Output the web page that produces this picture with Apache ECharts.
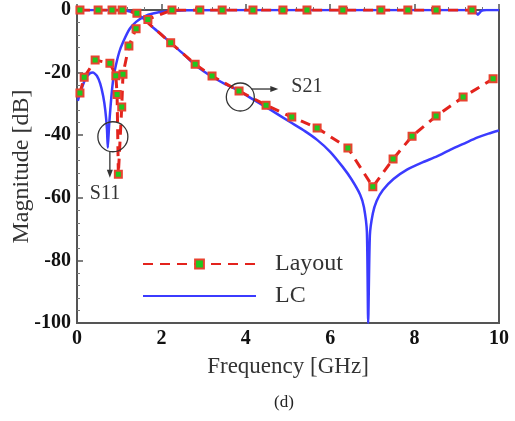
<!DOCTYPE html>
<html>
<head>
<meta charset="utf-8">
<script src="https://cdn.jsdelivr.net/npm/echarts@6/dist/echarts.min.js"></script>
<style>
  html, body { margin: 0; padding: 0; background: #fff; }
  #chart { width: 515px; height: 421px; }
</style>
</head>
<body>
<div id="chart"></div>
<script>
// frequency ticks and magnitude ticks
const xTicks = [0, 2, 4, 6, 8, 10];
const yTicks = [0, -20, -40, -60, -80, -100];

// Layout (EM) results, one point per marker: [GHz, dB]
const layoutS11 = [
  [0.07, -26.5], [0.17, -21.5], [0.43, -16], [0.78, -17], [0.92, -21],
  [0.95, -27], [0.98, -52.5], [1.06, -31], [1.09, -20.5], [1.23, -11.5],
  [1.40, -6], [1.68, -3], [2.25, 0], [2.91, 0], [3.44, 0], [4.17, 0],
  [4.88, 0], [5.45, 0], [6.30, 0], [7.20, 0], [7.84, 0], [8.51, 0], [9.36, 0]
];
const layoutS21 = [
  [0.07, 0], [0.5, 0], [0.83, 0], [1.07, 0], [1.42, -1], [2.22, -10.5],
  [2.80, -17.3], [3.20, -21.1], [3.84, -25.9], [4.48, -30.4], [5.09, -34.2],
  [5.69, -37.7], [6.42, -44.1], [7.01, -56.5], [7.49, -47.6], [7.94, -40.3],
  [8.51, -33.9], [9.15, -27.8], [9.86, -22.0]
];

// LC model results
const lcS11 = [
  [0.02, -29], [0.1, -25.5], [0.2, -22], [0.3, -20.3], [0.38, -20], [0.47, -21],
  [0.55, -23.5], [0.62, -27.5], [0.67, -32], [0.71, -38], [0.73, -44], [0.76, -37],
  [0.8, -30], [0.85, -23], [0.9, -19], [1.0, -13.5], [1.1, -10], [1.25, -6],
  [1.4, -3.8], [1.6, -2], [1.8, -1.1], [2.1, -0.5], [2.6, -0.1], [3.5, 0],
  [9.3, 0], [9.42, -0.3], [9.5, -1.5], [9.58, -0.3], [9.7, 0], [10, 0]
];
const lcS21 = [
  [0, 0], [1.0, 0], [1.2, -0.3], [1.35, -0.9], [1.5, -2], [1.65, -3.6], [1.8, -5.6],
  [2.0, -7.8], [2.2, -10.3], [2.5, -13.8], [2.75, -17], [3.0, -19.6], [3.22, -21.5],
  [3.5, -23.6], [3.86, -26], [4.2, -28.8], [4.6, -32], [5.05, -35.8], [5.4, -38.7],
  [5.69, -41.5], [6.0, -45.3], [6.3, -50.2], [6.5, -54], [6.71, -59], [6.8, -63],
  [6.87, -71], [6.9, -100], [6.94, -72], [7.01, -65], [7.1, -61], [7.25, -57.5],
  [7.5, -54], [7.82, -51], [8.2, -48.6], [8.53, -46.8], [8.84, -44.7], [9.2, -42.5],
  [9.48, -40.8], [9.75, -39.5], [10, -38.5]
];

// annotation anchors (data units)
const s11Circle = [0.85, -40.5];
const s21Circle = [3.87, -27.8];

const serif = '"Liberation Serif", "Times New Roman", serif';
const red = '#e3231d';
const blue = '#3b3bff';

const layoutStyle = {
  type: 'line',
  name: 'Layout',
  symbol: 'rect',
  symbolSize: 7,
  itemStyle: { color: '#1fc81f', borderColor: '#e8432f', borderWidth: 2 },
  lineStyle: { color: red, width: 3, type: [10, 7] },
  z: 3
};
const lcStyle = {
  type: 'line',
  name: 'LC',
  symbol: 'none',
  smooth: 0.2,
  lineStyle: { color: blue, width: 2.5 },
  itemStyle: { color: blue },
  z: 2
};

const chart = echarts.init(document.getElementById('chart'));

chart.setOption({
  animation: false,
  grid: {
    left: 77, right: 16, top: 10, bottom: 98,
    outerBoundsMode: 'none',
    containLabel: false,
    show: true, borderColor: '#555', borderWidth: 2, backgroundColor: 'transparent'
  },
  legend: {
    data: ['Layout', { name: 'LC', itemStyle: { opacity: 0 } }],
    orient: 'vertical',
    left: 142,
    top: 252,
    padding: 0,
    itemWidth: 113,
    itemHeight: 11,
    itemGap: 8,
    textStyle: { fontFamily: serif, fontSize: 24, color: '#333', padding: [0, 0, 0, 14] }
  },
  xAxis: {
    type: 'value',
    min: 0, max: 10, interval: 2,
    name: 'Frequency [GHz]',
    nameLocation: 'middle',
    nameGap: 32,
    nameTextStyle: { fontFamily: serif, fontSize: 23, color: '#333' },
    axisLine: { lineStyle: { color: '#555', width: 2 } },
    axisTick: { inside: true, length: 6, lineStyle: { color: '#555', width: 1.5 } },
    minorTick: { show: true, splitNumber: 5, length: 3, lineStyle: { color: '#777' } },
    splitLine: { show: false },
    axisLabel: {
      fontFamily: serif, fontSize: 20, fontWeight: 'bold', color: '#111', margin: 6,
      formatter: (v) => (xTicks.includes(v) ? String(v) : '')
    }
  },
  yAxis: {
    type: 'value',
    min: -100, max: 0, interval: 20,
    name: 'Magnitude [dB]',
    nameLocation: 'middle',
    nameGap: 43,
    nameMoveOverlap: false,
    nameTextStyle: { fontFamily: serif, fontSize: 24, color: '#333' },
    axisLine: { lineStyle: { color: '#555', width: 2 } },
    axisTick: { inside: true, length: 6, lineStyle: { color: '#555', width: 1.5 } },
    minorTick: { show: true, splitNumber: 5, length: 3, lineStyle: { color: '#777' } },
    splitLine: { show: false },
    axisLabel: {
      fontFamily: serif, fontSize: 20, fontWeight: 'bold', color: '#111', margin: 6,
      formatter: (v) => (yTicks.includes(v) ? String(v) : '')
    }
  },
  series: [
    Object.assign({}, lcStyle, { data: lcS11 }),
    Object.assign({}, lcStyle, { data: lcS21 }),
    Object.assign({}, layoutStyle, { data: layoutS11 }),
    Object.assign({}, layoutStyle, { data: layoutS21 })
  ]
});

// annotations placed from data coordinates
const c11 = chart.convertToPixel({ gridIndex: 0 }, s11Circle);
const c21 = chart.convertToPixel({ gridIndex: 0 }, s21Circle);
const ink = '#333';
const r = 15;

chart.setOption({
  graphic: [
    { type: 'circle', shape: { cx: c11[0], cy: c11[1], r: r }, style: { fill: 'none', stroke: ink, lineWidth: 1.3 }, z: 10 },
    { type: 'line', shape: { x1: c11[0] - 3, y1: c11[1] + r, x2: c11[0] - 3, y2: c11[1] + r + 19 }, style: { stroke: ink, lineWidth: 1.3 }, z: 10 },
    { type: 'polygon', shape: { points: [[c11[0] - 6, c11[1] + r + 18], [c11[0], c11[1] + r + 18], [c11[0] - 3, c11[1] + r + 26]] }, style: { fill: ink }, z: 10 },
    { type: 'text', left: c11[0] - 23, top: c11[1] + r + 32, style: { text: 'S11', font: '20px ' + serif, fill: ink }, z: 10 },

    { type: 'circle', shape: { cx: c21[0], cy: c21[1], r: 14 }, style: { fill: 'none', stroke: ink, lineWidth: 1.3 }, z: 10 },
    { type: 'line', shape: { x1: c21[0] + 11, y1: c21[1] - 8, x2: c21[0] + 31, y2: c21[1] - 8 }, style: { stroke: ink, lineWidth: 1.3 }, z: 10 },
    { type: 'polygon', shape: { points: [[c21[0] + 30, c21[1] - 11], [c21[0] + 30, c21[1] - 5], [c21[0] + 38, c21[1] - 8]] }, style: { fill: ink }, z: 10 },
    { type: 'text', left: c21[0] + 51, top: c21[1] - 20, style: { text: 'S21', font: '20px ' + serif, fill: ink }, z: 10 },

    { type: 'text', left: 274, top: 394, style: { text: '(d)', font: '17px ' + serif, fill: '#222' } }
  ]
});
</script>
</body>
</html>
